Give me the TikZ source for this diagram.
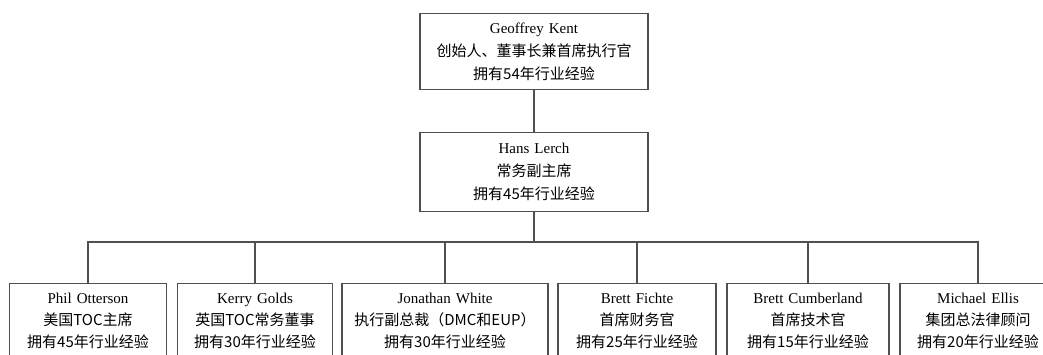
\documentclass[tikz,border=0pt]{standalone}
\usepackage{fontspec}
\setmainfont{Liberation Serif}
\newfontfamily\cjk{Noto Sans CJK SC}
\usepackage{tikz}
\definecolor{linegray}{HTML}{505050}

\begin{document}
\begin{tikzpicture}[
		x=1pt, y=-1pt,
		every node/.style={rectangle, draw=linegray, line width=1.2pt, align=center, inner xsep=0pt, font=\fontsize{15}{22}\selectfont},
		staff/.style={anchor=north, inner ysep=9pt},
		link/.style={draw=linegray, line width=1.2pt}
	]
  \useasboundingbox (0,0) rectangle (1043,354);
  \clip (0,0) rectangle (1043,354);
  \node (kent) [anchor=north, text width=228pt, minimum height=76pt, font=\fontsize{15}{23}\selectfont] at (534,13) {Geoffrey Kent\\{\cjk 创始人、董事长兼首席执行官}\\{\cjk 拥有54年行业经验}};
  \node (lerch) [anchor=north, text width=228pt, minimum height=79pt, font=\fontsize{15}{23}\selectfont] at (534,132) {Hans Lerch\\{\cjk 常务副主席}\\{\cjk 拥有45年行业经验}};
  \coordinate (bus) at (534,242);
  % the bottom row runs past the lower edge
  \node (otterson) [staff, text width=157pt] at (88,283) {Phil Otterson\\{\cjk 美国TOC主席}\\{\cjk 拥有45年行业经验}\\\mbox{}};
  \node (golds) [staff, text width=155pt] at (255,283) {Kerry Golds\\{\cjk 英国TOC常务董事}\\{\cjk 拥有30年行业经验}\\\mbox{}};
  \node (white) [staff, text width=206pt] at (445,283) {Jonathan White\\{\cjk 执行副总裁（DMC和EUP）}\\{\cjk 拥有30年行业经验}\\\mbox{}};
  \node (fichte) [staff, text width=158pt] at (637,283) {Brett Fichte\\{\cjk 首席财务官}\\{\cjk 拥有25年行业经验}\\\mbox{}};
  \node (cumberland) [staff, text width=162pt] at (808,283) {Brett Cumberland\\{\cjk 首席技术官}\\{\cjk 拥有15年行业经验}\\\mbox{}};
  \node (ellis) [staff, text width=156pt] at (978,283) {Michael Ellis\\{\cjk 集团总法律顾问}\\{\cjk 拥有20年行业经验}\\\mbox{}};
  \draw[link] (kent) -- (lerch);
  \draw[link] (lerch) -- (bus);
  \foreach \n in {otterson,golds,white,fichte,cumberland,ellis}
    \draw[link] (\n.north) |- (bus);
\end{tikzpicture}
\end{document}
